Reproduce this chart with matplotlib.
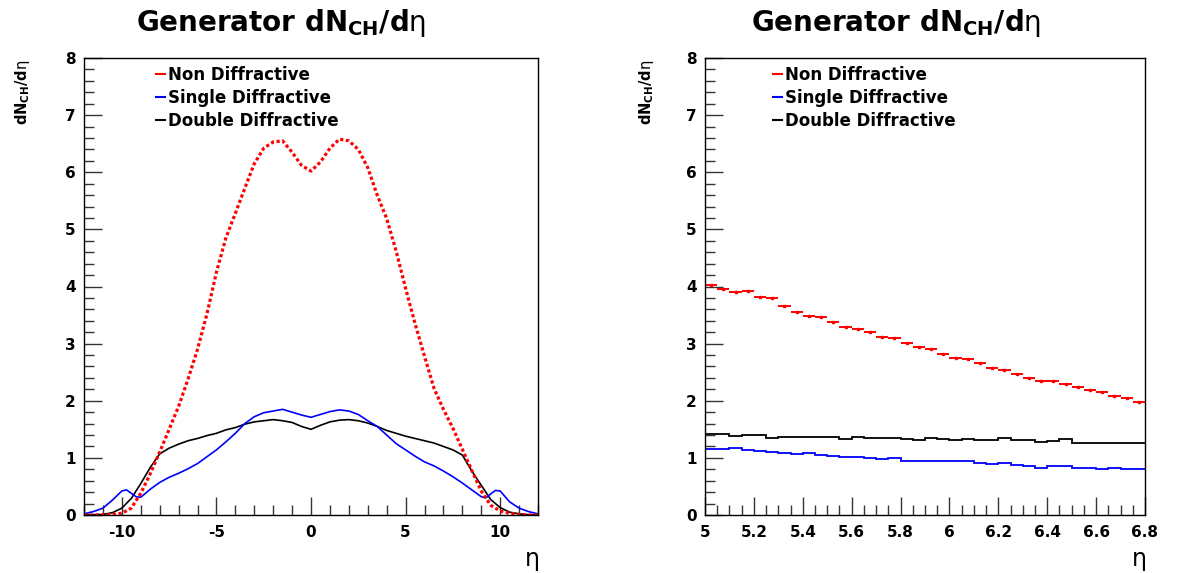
import numpy as np
import matplotlib
matplotlib.use("Agg")
import matplotlib.pyplot as plt
from matplotlib.lines import Line2D
from matplotlib.ticker import MultipleLocator, FuncFormatter

plt.rcParams['font.family'] = ['DejaVu Sans']
plt.rcParams['mathtext.fontset'] = 'dejavusans'
plt.rcParams['axes.unicode_minus'] = False

# ---------------- data: full eta range ----------------
eta_full = [-12, -11.5, -11, -10.5, -10, -9.5, -9, -8.5, -8, -7.5, -7, -6.5, -6, -5.5, -5,
            -4.5, -4, -3.5, -3, -2.5, -2, -1.5, -1, -0.5, 0, 0.5, 1, 1.5, 2, 2.5, 3, 3.5,
            4, 4.5, 5, 5.5, 6, 6.5, 7, 7.5, 8, 8.5, 9, 9.5, 10, 10.5, 11, 11.5, 12]
non_diff = [0.0, 0.0, 0.005, 0.01, 0.03, 0.12, 0.38, 0.72, 1.10, 1.50, 1.90, 2.38, 2.90, 3.52, 4.25,
            4.85, 5.28, 5.72, 6.15, 6.42, 6.53, 6.55, 6.35, 6.12, 6.02, 6.18, 6.42, 6.58, 6.55, 6.40,
            6.08, 5.60, 5.19, 4.62, 3.97, 3.35, 2.78, 2.22, 1.85, 1.52, 1.15, 0.78, 0.42, 0.17, 0.07,
            0.03, 0.01, 0.0, 0.0]
double_diff = [0.0, 0.005, 0.01, 0.04, 0.12, 0.29, 0.55, 0.83, 1.07, 1.17, 1.24, 1.30, 1.34, 1.39, 1.43,
               1.49, 1.53, 1.59, 1.63, 1.65, 1.67, 1.65, 1.62, 1.55, 1.50, 1.57, 1.63, 1.66, 1.67, 1.65,
               1.61, 1.55, 1.48, 1.43, 1.38, 1.34, 1.30, 1.26, 1.20, 1.14, 1.05, 0.77, 0.52, 0.27, 0.13,
               0.05, 0.02, 0.005, 0.0]
eta_sd = [-12, -11.5, -11, -10.5, -10, -9.75, -9.5, -9.25, -9, -8.5, -8, -7.5, -7, -6.5, -6, -5.5, -5,
          -4.5, -4, -3.5, -3, -2.5, -2, -1.5, -1, -0.5, 0, 0.5, 1, 1.5, 2, 2.5, 3, 3.5, 4, 4.5, 5,
          5.5, 6, 6.5, 7, 7.5, 8, 8.5, 9, 9.25, 9.5, 9.75, 10, 10.5, 11, 11.5, 12]
single_diff = [0.02, 0.06, 0.12, 0.26, 0.42, 0.44, 0.38, 0.32, 0.31, 0.45, 0.57, 0.66, 0.73, 0.81, 0.90,
               1.02, 1.14, 1.28, 1.43, 1.60, 1.72, 1.79, 1.82, 1.85, 1.80, 1.75, 1.71, 1.76, 1.81, 1.84,
               1.82, 1.76, 1.65, 1.55, 1.40, 1.25, 1.14, 1.03, 0.93, 0.86, 0.77, 0.67, 0.56, 0.44, 0.32,
               0.30, 0.37, 0.43, 0.42, 0.23, 0.12, 0.06, 0.02]

# ---------------- data: zoomed range 5 - 6.8 (bins of 0.05) ----------------
bin_edges = [5.00, 5.05, 5.10, 5.15, 5.20, 5.25, 5.30, 5.35, 5.40, 5.45, 5.50, 5.55, 5.60, 5.65,
             5.70, 5.75, 5.80, 5.85, 5.90, 5.95, 6.00, 6.05, 6.10, 6.15, 6.20, 6.25, 6.30, 6.35,
             6.40, 6.45, 6.50, 6.55, 6.60, 6.65, 6.70, 6.75, 6.80]
zoom_non = [4.03, 3.96, 3.90, 3.92, 3.81, 3.79, 3.66, 3.56, 3.48, 3.47, 3.37, 3.29, 3.26, 3.21,
            3.11, 3.10, 3.01, 2.94, 2.91, 2.81, 2.74, 2.73, 2.66, 2.58, 2.53, 2.46, 2.40, 2.35,
            2.34, 2.30, 2.24, 2.19, 2.15, 2.08, 2.05, 1.98]
zoom_double = [1.41, 1.41, 1.39, 1.40, 1.40, 1.35, 1.37, 1.37, 1.37, 1.36, 1.36, 1.33, 1.37, 1.35,
               1.35, 1.35, 1.33, 1.31, 1.35, 1.33, 1.31, 1.33, 1.31, 1.31, 1.34, 1.31, 1.31, 1.28,
               1.29, 1.33, 1.26, 1.26, 1.26, 1.26, 1.26, 1.26]
zoom_single = [1.16, 1.16, 1.17, 1.14, 1.12, 1.11, 1.09, 1.06, 1.08, 1.05, 1.03, 1.02, 1.02, 1.00,
               0.98, 1.00, 0.95, 0.95, 0.95, 0.95, 0.94, 0.94, 0.91, 0.90, 0.91, 0.88, 0.85, 0.83,
               0.86, 0.86, 0.83, 0.83, 0.80, 0.82, 0.80, 0.80]

labels = ['Non Diffractive', 'Single Diffractive', 'Double Diffractive']
colors = ['#ff0000', '#0000ff', '#000000']

W, H = 1181, 573
fig = plt.figure(figsize=(W / 100, H / 100), dpi=100)

def px_axes(x0, x1, ytop, ybot):
    return fig.add_axes([x0 / W, 1 - ybot / H, (x1 - x0) / W, (ybot - ytop) / H])

axL = px_axes(84, 538, 58, 515)
axR = px_axes(705, 1145, 58, 515)

# left panel
axL.plot(eta_full, double_diff, color=colors[2], lw=1.2)
axL.plot(eta_sd, single_diff, color=colors[1], lw=1.2)
axL.plot(eta_full, non_diff, color=colors[0], lw=2.3, linestyle=(0, (1.0, 0.8)))
axL.set_xlim(-12, 12)
axL.set_ylim(0, 8)
axL.xaxis.set_major_locator(MultipleLocator(5))
axL.xaxis.set_minor_locator(MultipleLocator(1))

# right panel
edges = np.array(bin_edges)
centers = 0.5 * (edges[:-1] + edges[1:])
half = 0.5 * (edges[1:] - edges[:-1])
axR.stairs(zoom_single, edges, color=colors[1], lw=1.3, baseline=None)
axR.stairs(zoom_double, edges, color=colors[2], lw=1.3, baseline=None)
axR.errorbar(centers, zoom_non, xerr=half, yerr=0.015, fmt='s', ms=2, color=colors[0],
             elinewidth=1.4, capsize=0)
axR.set_xlim(5, 6.8)
axR.set_ylim(0, 8)
axR.xaxis.set_major_locator(MultipleLocator(0.2))
axR.xaxis.set_minor_locator(MultipleLocator(0.05))

def xfmt(v, pos):
    return ('%.1f' % v).rstrip('0').rstrip('.')

axR.xaxis.set_major_formatter(FuncFormatter(xfmt))

for ax in (axL, axR):
    ax.yaxis.set_major_locator(MultipleLocator(1))
    ax.yaxis.set_minor_locator(MultipleLocator(0.2))
    ax.tick_params(which='both', direction='in', top=False, right=False, width=1.0, color='#333333')
    ax.tick_params(which='major', length=13, labelsize=11)
    ax.tick_params(axis='x', which='major', pad=7)
    ax.tick_params(axis='y', which='major', pad=6)
    ax.tick_params(which='minor', length=7)
    for lab in ax.get_xticklabels() + ax.get_yticklabels():
        lab.set_fontweight('bold')
    for sp in ax.spines.values():
        sp.set_linewidth(1.0)
    ax.set_xlabel(r'$\mathrm{\eta}$', fontsize=17)
    ax.xaxis.set_label_coords(0.985, -0.075)
    ax.xaxis.label.set_horizontalalignment('center')

# y labels
for xpx in (22, 647):
    fig.text(xpx / W, 1 - 60 / H, r'dN$_{\mathbf{CH}}$/d$\mathrm{\eta}$', rotation=90,
             ha='center', va='top', fontsize=10.5, fontweight='bold')

# titles
for xpx in (281, 896):
    fig.text(xpx / W, 1 - 23 / H, r'Generator dN$_{\mathbf{CH}}$/d$\mathrm{\eta}$',
             ha='center', va='center', fontsize=20, fontweight='bold')

# legends
handles = [Line2D([0], [0], color=c, lw=1.5) for c in colors]
for ax, xpx in ((axL, 156), (axR, 773)):
    ax.legend(handles, labels, loc='upper left', bbox_to_anchor=(xpx / W, 1 - 66 / H),
              bbox_transform=fig.transFigure, frameon=False, handlelength=0.55,
              handletextpad=0.15, borderpad=0, borderaxespad=0, labelspacing=0.3,
              prop={'weight': 'bold', 'size': 12})

fig.savefig('out.png', dpi=100)
